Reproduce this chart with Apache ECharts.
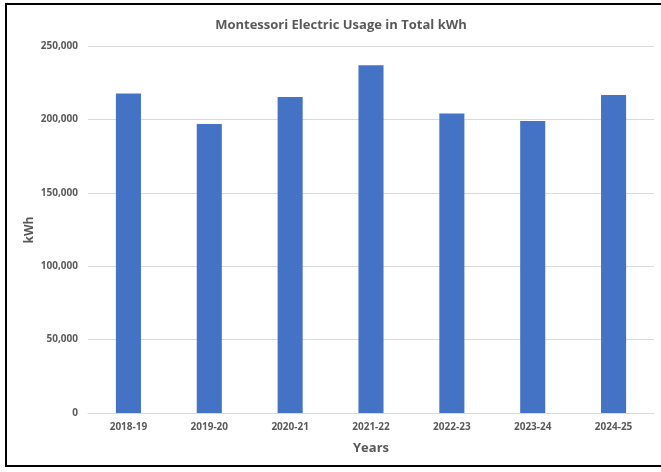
<!DOCTYPE html>
<html><head><meta charset="utf-8">
<script src="https://cdn.jsdelivr.net/npm/echarts@6/dist/echarts.min.js"></script>
<style>html,body{margin:0;padding:0;background:#fff;}#frame{position:absolute;left:5px;top:3px;width:660px;height:464px;border:2px solid #000;border-right:none;box-sizing:border-box;}#c{position:absolute;left:0;top:0;width:661px;height:472px;}</style>
</head><body>
<div id="frame"></div>
<div id="c"></div>
<script>
const categories = ['2018-19','2019-20','2020-21','2021-22','2022-23','2023-24','2024-25'];
const usage = [217700, 196800, 215300, 236900, 204100, 198900, 216600];
const yTicks = [0, 50000, 100000, 150000, 200000, 250000];
const yName = 'kWh';

const chart = echarts.init(document.getElementById('c'), null, {renderer:'canvas'});
const font = '"Open Sans", "Noto Sans", sans-serif';
chart.setOption({
  animation: false,
  title: {
    text: 'Montessori Electric Usage in Total kWh',
    left: 336, top: 14, textAlign: 'center',
    textStyle: {fontFamily: font, fontSize: 13, fontWeight: 'bold', color: '#595959'}
  },
  graphic: [{
    type: 'text', x: 30, y: 230, rotation: Math.PI / 2,
    style: {text: yName, fontFamily: font, fontSize: 12, fontWeight: 'bold', fill: '#595959',
      align: 'center', verticalAlign: 'middle'}
  }],
  grid: {left: 88, right: 7, top: 46, bottom: 59, containLabel: false},
  xAxis: {
    type: 'category', data: categories,
    name: 'Years', nameLocation: 'middle', nameGap: 29,
    nameTextStyle: {fontFamily: font, fontSize: 13, fontWeight: 'bold', color: '#595959'},
    axisLine: {lineStyle: {color: '#d9d9d9', width: 1}},
    axisTick: {show: false},
    axisLabel: {fontFamily: font, fontSize: 10, fontWeight: 'bold', color: '#595959', margin: 9}
  },
  yAxis: {
    type: 'value', min: 0, max: 250000, interval: 50000,
    axisLine: {show: false}, axisTick: {show: false},
    splitLine: {lineStyle: {color: '#d9d9d9', width: 1}},
    axisLabel: {fontFamily: font, fontSize: 10, fontWeight: 'bold', color: '#595959', margin: 10,
      formatter: v => yTicks.includes(v) ? v.toLocaleString('en-US') : ''}
  },
  series: [{
    type: 'bar', data: usage, barWidth: '31%',
    itemStyle: {color: '#4472C4'}
  }]
});
</script>
</body></html>
